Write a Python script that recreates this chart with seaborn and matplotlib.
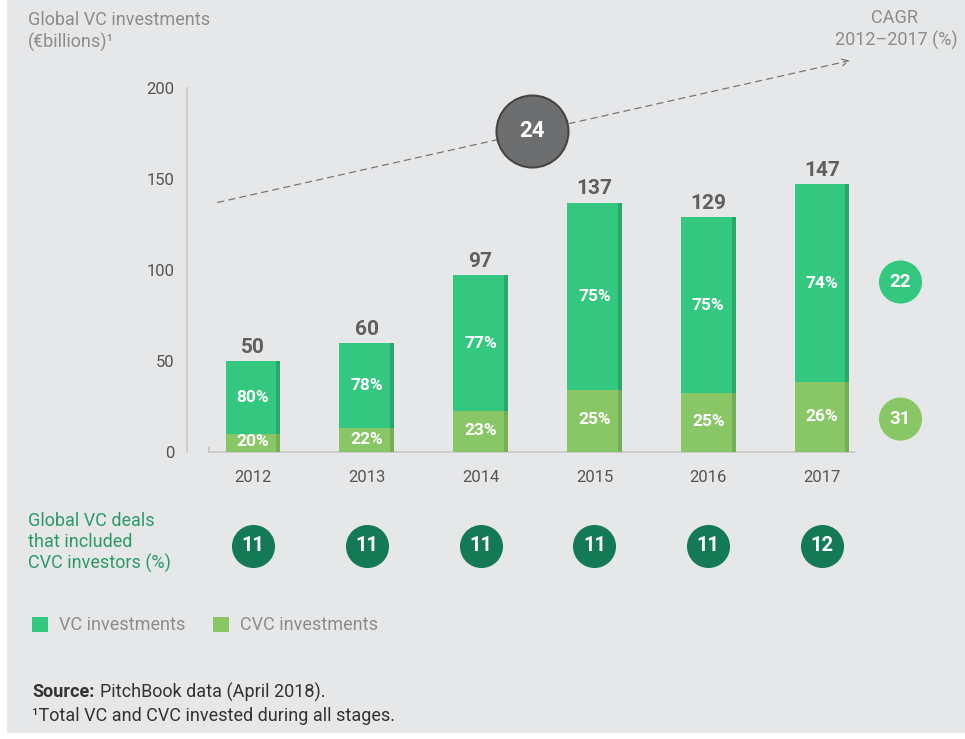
import matplotlib
matplotlib.use("Agg")
import matplotlib.pyplot as plt
from matplotlib.patches import Rectangle
import numpy as np
import pandas as pd
import seaborn as sns

# datos
years = ["2012", "2013", "2014", "2015", "2016", "2017"]
total = [50, 60, 97, 137, 129, 147]
vc_pct = [80, 78, 77, 75, 75, 74]
cvc_pct = [20, 22, 23, 25, 25, 26]
deals_pct = [11, 11, 11, 11, 11, 12]
cagr_total = 24
cagr_vc = 22
cagr_cvc = 31

df = pd.DataFrame({"year": years, "total": total, "vc_pct": vc_pct, "cvc_pct": cvc_pct})
df["cvc"] = df["total"] * df["cvc_pct"] / 100

VC_COL = "#33c77f"
VC_EDGE = "#2aa86b"
CVC_COL = "#89c766"
CVC_EDGE = "#76ad56"
DEAL_COL = "#137a55"
BG = "#e6e7e9"

sns.set_theme(style="white")
plt.rcParams["font.family"] = ["Roboto", "DejaVu Sans"]

W, H = 965, 739
fig = plt.figure(figsize=(W / 100, H / 100), dpi=100, facecolor="white")
fig.patches.append(Rectangle((7 / W, 6 / H), 1, 1, transform=fig.transFigure,
                             facecolor=BG, edgecolor="none", zorder=-10))


def px(x, y):
    return x / W, 1 - y / H


ax = fig.add_axes([187 / W, 1 - 452 / H, 753 / W, 364 / H])
ax.set_facecolor("none")

bw = 0.48
sns.barplot(data=df, x="year", y="total", color=VC_COL, width=bw, saturation=1,
            linewidth=0, edgecolor="none", ax=ax, zorder=2)
sns.barplot(data=df, x="year", y="cvc", color=CVC_COL, width=bw, saturation=1,
            linewidth=0, edgecolor="none", ax=ax, zorder=3)

# borde derecho sombreado
xs = np.arange(len(years))
ew = 0.035
ax.bar(xs + bw / 2 - ew / 2, df["total"], width=ew, color=VC_EDGE, linewidth=0, zorder=4)
ax.bar(xs + bw / 2 - ew / 2, df["cvc"], width=ew, color=CVC_EDGE, linewidth=0, zorder=5)

ax.set_xlim(-0.58, 6.037)
ax.set_ylim(0, 200)
ax.set_xlabel("")
ax.set_ylabel("")
ax.set_yticks([0, 50, 100, 150, 200])
ax.tick_params(axis="y", length=0, pad=9, labelsize=12, labelcolor="#555555")
ax.tick_params(axis="x", length=0, pad=13, labelsize=12, labelcolor="#555555")
for s in ["top", "right", "bottom"]:
    ax.spines[s].set_visible(False)
ax.spines["left"].set_color("#c8c8c8")
ax.spines["left"].set_linewidth(1.2)

# linea base
ax.plot([-0.387, 5.29], [0, 0], color="#c8c8c8", lw=1.2, clip_on=False, zorder=1)
ax.plot([-0.387, -0.387], [0, 2.7], color="#c8c8c8", lw=1.2, clip_on=False, zorder=1)

# etiquetas
for i, row in df.iterrows():
    ax.annotate(f"{row['total']}", (i, row["total"]), xytext=(0, 3),
                textcoords="offset points", ha="center", va="bottom",
                fontsize=15, fontweight="bold", color="#5f5f5f")
    ax.text(i, row["cvc"] + (row["total"] - row["cvc"]) / 2, f"{row['vc_pct']}%",
            ha="center", va="center", fontsize=12.5, fontweight="bold", color="white", zorder=6)
    ax.text(i, row["cvc"] / 2 + 0.5, f"{row['cvc_pct']}%",
            ha="center", va="center", fontsize=12.5, fontweight="bold", color="white", zorder=6)

# flecha CAGR
ax.annotate("", xy=(5.27, 215.4), xytext=(-0.334, 136.8),
            arrowprops=dict(arrowstyle="->", color="#777777", lw=0.9, linestyle=(0, (5, 4))),
            annotation_clip=False, zorder=1)
ax.scatter([2.45], [176.4], s=2685, color="#6d6e70", edgecolor="#454545", linewidth=1.5,
           clip_on=False, zorder=7)
ax.text(2.45, 176.4, f"{cagr_total}", ha="center", va="center", fontsize=16,
        fontweight="bold", color="white", zorder=8)

ax.scatter([5.69, 5.69], [93.4, 18.1], s=961, color=[VC_COL, CVC_COL], linewidth=0,
           clip_on=False, zorder=7)
ax.text(5.69, 93.4, f"{cagr_vc}", ha="center", va="center", fontsize=13.5,
        fontweight="bold", color="white", zorder=8)
ax.text(5.69, 18.1, f"{cagr_cvc}", ha="center", va="center", fontsize=13.5,
        fontweight="bold", color="white", zorder=8)

# fila de deals
ax.scatter(xs, [-51.6] * len(xs), s=961, color=DEAL_COL, linewidth=0, clip_on=False, zorder=7)
for i, d in enumerate(deals_pct):
    ax.text(i, -51.6, f"{d}", ha="center", va="center", fontsize=14.5,
            fontweight="bold", color="white", zorder=8)

# textos de figura
fig.text(*px(28, 20), "Global VC investments", fontsize=13, color="#8c8c8c", va="center")
fig.text(*px(28, 42), "(€billions)¹", fontsize=13, color="#8c8c8c", va="center")
fig.text(*px(894, 18), "CAGR", fontsize=13, color="#8c8c8c", va="center", ha="center")
fig.text(*px(896, 40), "2012–2017 (%)", fontsize=13, color="#8c8c8c", va="center", ha="center")

for k, t in enumerate(["Global VC deals", "that included", "CVC investors (%)"]):
    fig.text(*px(28, 521 + 21 * k), t, fontsize=13, color="#2b9a68", va="center")

# leyenda
fig.patches.append(Rectangle(px(32, 632), 16 / W, 15 / H, transform=fig.transFigure,
                             facecolor=VC_COL, edgecolor="none"))
fig.text(*px(59, 625), "VC investments", fontsize=13, color="#8c8c8c", va="center")
fig.patches.append(Rectangle(px(213, 632), 16 / W, 15 / H, transform=fig.transFigure,
                             facecolor=CVC_COL, edgecolor="none"))
fig.text(*px(240, 625), "CVC investments", fontsize=13, color="#8c8c8c", va="center")

# fuente
src = fig.text(*px(32, 692), "Source:", fontsize=13, fontweight="bold", color="#333333", va="center")
fig.canvas.draw()
bb = src.get_window_extent()
fig.text((bb.x1 + 6) / W, 1 - 692 / H, "PitchBook data (April 2018).", fontsize=13,
         color="#333333", va="center")
fig.text(*px(32, 716), "¹Total VC and CVC invested during all stages.", fontsize=13,
         color="#333333", va="center")

fig.savefig("out.png", dpi=100, facecolor=fig.get_facecolor())
